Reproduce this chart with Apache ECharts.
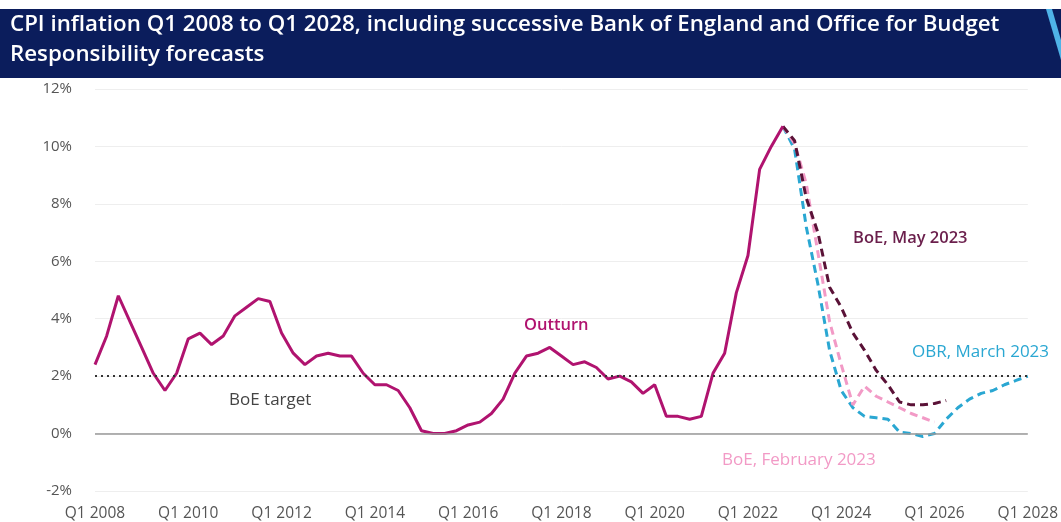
<!DOCTYPE html>
<html>
<head>
<meta charset="utf-8">
<script src="https://cdn.jsdelivr.net/npm/echarts@6/dist/echarts.min.js"></script>
<style>
html,body{margin:0;padding:0;background:#fff;}
#chart{width:1061px;height:522px;}
</style>
</head>
<body>
<div id="chart"></div>
<script>
// ---- data ----
const firstYear = 2008, lastYear = 2028;
const categories = [];
for (let y = firstYear; y <= lastYear; y++) {
  for (let q = 1; q <= 4; q++) {
    if (y === lastYear && q > 1) break;
    categories.push('Q' + q + ' ' + y);
  }
}
// Outturn Q1 2008 .. Q4 2022
const outturn = [
  2.4, 3.4, 4.8, 3.9,
  3.0, 2.1, 1.5, 2.1,
  3.3, 3.5, 3.1, 3.4,
  4.1, 4.4, 4.7, 4.6,
  3.5, 2.8, 2.4, 2.7,
  2.8, 2.7, 2.7, 2.1,
  1.7, 1.7, 1.5, 0.9,
  0.1, 0.0, 0.0, 0.1,
  0.3, 0.4, 0.7, 1.2,
  2.1, 2.7, 2.8, 3.0,
  2.7, 2.4, 2.5, 2.3,
  1.9, 2.0, 1.8, 1.4,
  1.7, 0.6, 0.6, 0.5,
  0.6, 2.1, 2.8, 4.9,
  6.2, 9.2, 10.0, 10.7
];
// Forecasts start at Q4 2022
const forecastStart = 'Q4 2022';
const boeFeb2023 = [10.7, 10.1, 8.7, 6.3, 3.9, 2.4, 1.0, 1.65, 1.3, 1.1, 0.9, 0.7, 0.55, 0.4];
const boeMay2023 = [10.7, 10.2, 8.2, 7.0, 5.1, 4.4, 3.5, 2.9, 2.2, 1.7, 1.1, 1.0, 1.0, 1.05, 1.15];
const obrMar2023 = [10.7, 9.9, 7.2, 5.2, 2.9, 1.5, 0.9, 0.6, 0.55, 0.5, 0.05, 0.0, -0.1, 0.0, 0.5, 0.9, 1.2, 1.4, 1.5, 1.7, 1.85, 2.0];
const boeTarget = 2;
const yTicks = { min: -2, max: 12, interval: 2 };

// ---- helpers ----
function pad(values, startLabel) {
  const start = categories.indexOf(startLabel);
  const arr = new Array(categories.length).fill(null);
  values.forEach((v, i) => { arr[start + i] = v; });
  return arr;
}
const outturnData = pad(outturn, categories[0]);

const FONT = '"Open Sans", "Noto Sans", sans-serif';
const chart = echarts.init(document.getElementById('chart'), null, { renderer: 'canvas' });

const dashed = (color) => ({
  type: 'line', symbol: 'none', smooth: false, connectNulls: false,
  lineStyle: { color: color, width: 3, type: [8, 5] }, z: 3
});

chart.setOption({
  animation: false,
  backgroundColor: '#ffffff',
  grid: { left: 95, right: 32, top: 89, bottom: 28, containLabel: false },
  xAxis: {
    type: 'category',
    data: categories,
    boundaryGap: false,
    axisLine: { show: false },
    axisTick: { show: false },
    splitLine: { show: false },
    axisLabel: {
      interval: 7,
      color: '#555',
      fontFamily: FONT,
      fontSize: 15.5,
      margin: 15,
      showMaxLabel: true
    }
  },
  yAxis: {
    type: 'value',
    min: yTicks.min, max: yTicks.max, interval: yTicks.interval,
    axisLine: { show: false },
    axisTick: { show: false },
    axisLabel: {
      formatter: '{value}%',
      color: '#555',
      fontFamily: FONT,
      fontSize: 15,
      margin: 23
    },
    splitLine: { lineStyle: { color: '#eeeeee', width: 1 } }
  },
  graphic: [
    { type: 'rect', shape: { x: 0, y: 9, width: 1061, height: 69 }, style: { fill: '#0b1d5c' }, z: 0 },
    { type: 'polygon', shape: { points: [[1046, 9], [1052, 9], [1061, 40], [1061, 60]] }, style: { fill: '#4fb3e8' }, z: 1 },
    { type: 'text', left: 10, top: 10, z: 2,
      style: { text: 'CPI inflation Q1 2008 to Q1 2028, including successive Bank of England and Office for Budget\nResponsibility forecasts',
        fill: '#ffffff', font: '600 22.3px "Open Sans", "Noto Sans", sans-serif', lineHeight: 30 } },
    { type: 'text', left: 229, top: 392, z: 5,
      style: { text: 'BoE target', fill: '#444444', font: '17px "Open Sans", sans-serif' } },
    { type: 'text', left: 524, top: 317, z: 5,
      style: { text: 'Outturn', fill: '#b0136f', font: '600 16.5px "Open Sans", sans-serif' } },
    { type: 'text', left: 853, top: 230, z: 5,
      style: { text: 'BoE, May 2023', fill: '#6b1f4c', font: '600 16.5px "Open Sans", sans-serif' } },
    { type: 'text', left: 912, top: 344, z: 5,
      style: { text: 'OBR, March 2023', fill: '#2aa7d2', font: '17px "Open Sans", sans-serif' } },
    { type: 'text', left: 722, top: 452, z: 5,
      style: { text: 'BoE, February 2023', fill: '#f29ac6', font: '17px "Open Sans", sans-serif' } }
  ],
  series: [
    {
      name: 'Outturn', type: 'line', data: outturnData, symbol: 'none',
      lineStyle: { color: '#b0136f', width: 3 }, z: 4,
      markLine: {
        silent: true, symbol: 'none', label: { show: false },
        data: [
          { yAxis: 0, lineStyle: { color: '#999999', width: 1.5, type: 'solid' } },
          { yAxis: boeTarget, lineStyle: { color: '#333333', width: 2.2, type: [2, 4] } }
        ]
      }
    },
    Object.assign(dashed('#2aa7d2'), { name: 'OBR, March 2023', data: pad(obrMar2023, forecastStart) }),
    Object.assign(dashed('#f29ac6'), { name: 'BoE, February 2023', data: pad(boeFeb2023, forecastStart) }),
    Object.assign(dashed('#5a1237'), { name: 'BoE, May 2023', data: pad(boeMay2023, forecastStart) })
  ]
});
</script>
</body>
</html>
